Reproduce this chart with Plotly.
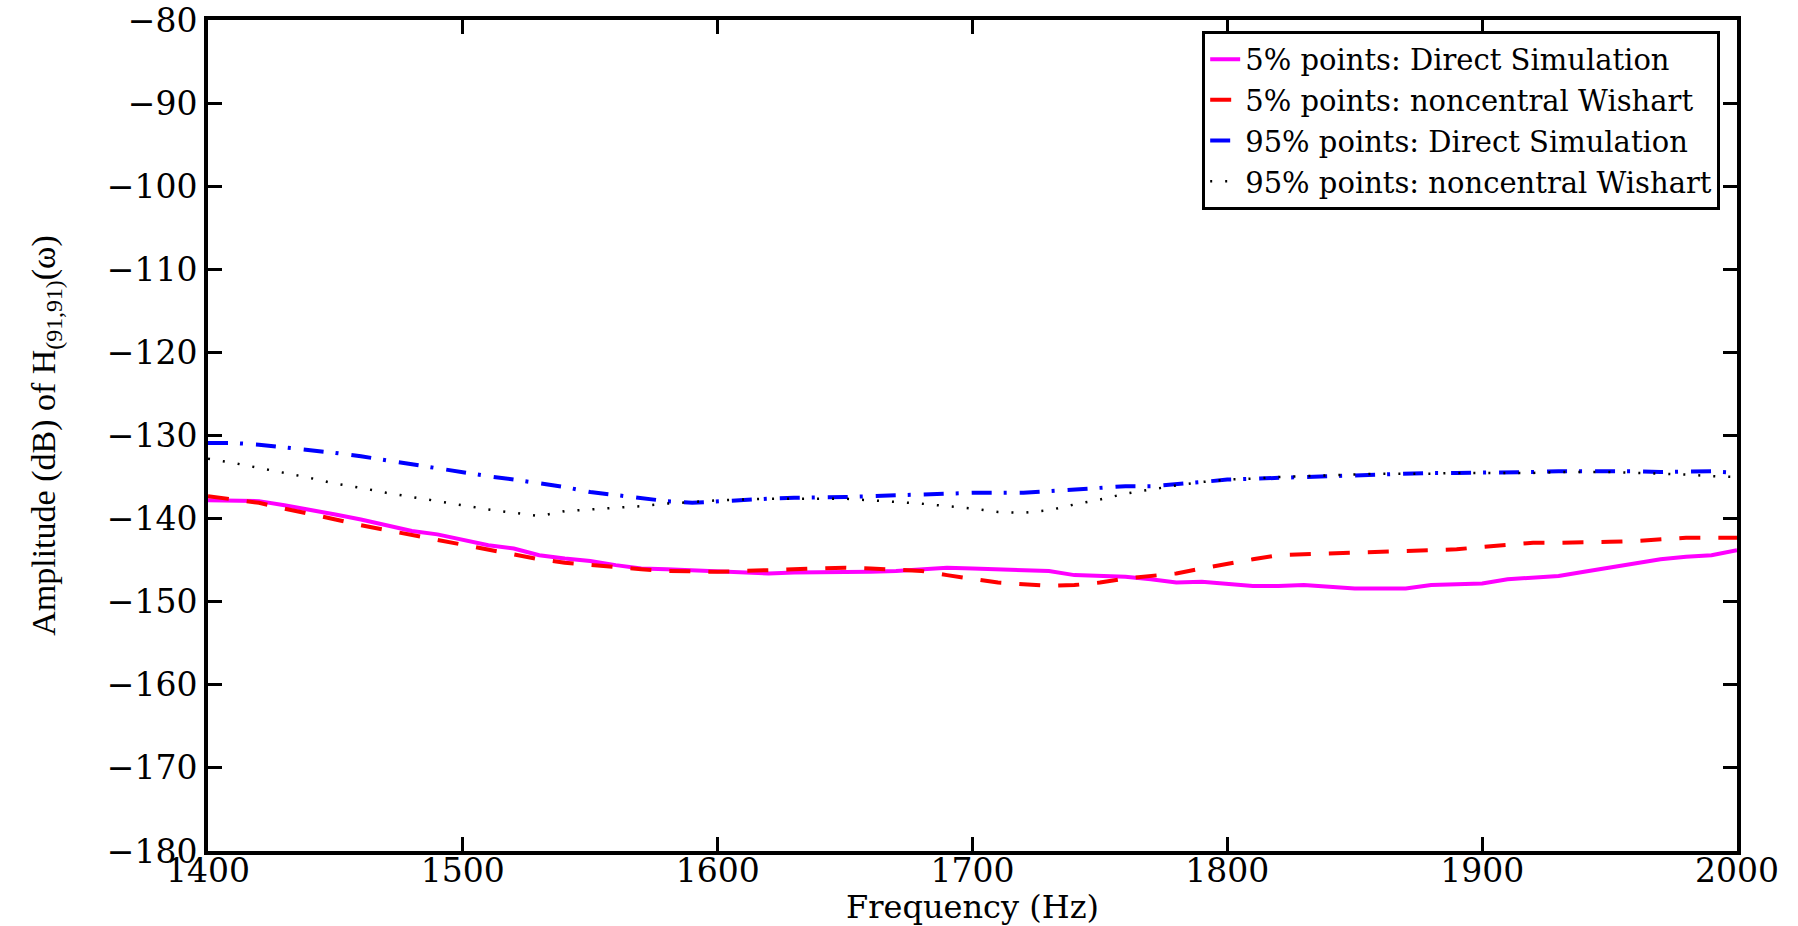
import plotly.graph_objects as go

freq = list(range(1400, 2001, 10))

p5_direct = [-137.8, -137.8, -137.9, -138.4, -138.9, -139.5, -140.1, -140.8, -141.5, -141.9,
             -142.6, -143.2, -143.6, -144.4, -144.8, -145.1, -145.6, -146.0, -146.1, -146.2,
             -146.3, -146.5, -146.6, -146.5, -146.5, -146.4, -146.4, -146.3, -146.1, -145.9,
             -146.0, -146.1, -146.2, -146.3, -146.8, -146.9, -147.0, -147.3, -147.7, -147.6,
             -147.9, -148.1, -148.1, -148.0, -148.2, -148.4, -148.4, -148.4, -148.0, -147.9,
             -147.8, -147.3, -147.1, -146.9, -146.4, -145.9, -145.4, -144.9, -144.6, -144.4,
             -143.8]

p5_wishart = [-137.3, -137.7, -138.1, -138.8, -139.4, -140.1, -140.8, -141.4, -142.0, -142.6,
              -143.2, -143.8, -144.3, -144.9, -145.3, -145.6, -145.9, -146.1, -146.3, -146.4,
              -146.4, -146.3, -146.2, -146.1, -145.9, -145.9, -146.0, -146.1, -146.3, -146.8,
              -147.3, -147.7, -147.9, -148.1, -148.0, -147.7, -147.2, -146.9, -146.6, -146.0,
              -145.4, -144.9, -144.4, -144.3, -144.3, -144.2, -144.1, -144.0, -143.9, -143.7,
              -143.4, -143.2, -142.9, -142.9, -142.9, -142.8, -142.7, -142.5, -142.3, -142.3,
              -142.3]

p95_direct = [-130.9, -130.9, -131.1, -131.4, -131.7, -132.1, -132.5, -133.0, -133.4, -133.9,
              -134.4, -134.9, -135.3, -135.7, -136.2, -136.8, -137.2, -137.6, -137.9, -138.1,
              -137.9, -137.7, -137.6, -137.5, -137.5, -137.4, -137.3, -137.2, -137.0, -136.9,
              -136.9, -136.9, -136.9, -136.7, -136.5, -136.3, -136.1, -136.1, -135.9, -135.6,
              -135.3, -135.2, -135.1, -135.0, -134.9, -134.8, -134.6, -134.6, -134.5, -134.5,
              -134.5, -134.4, -134.4, -134.3, -134.3, -134.2, -134.3, -134.4, -134.4, -134.3,
              -134.5]

p95_wishart = [-132.8, -133.3, -133.9, -134.5, -135.1, -135.8, -136.3, -136.9, -137.4, -137.9,
               -138.4, -138.9, -139.3, -139.7, -139.1, -138.9, -138.7, -138.5, -138.2, -138.0,
               -137.8, -137.7, -137.6, -137.6, -137.6, -137.6, -137.8, -138.0, -138.2, -138.5,
               -138.8, -139.2, -139.3, -139.0, -138.3, -137.7, -137.0, -136.5, -136.0, -135.6,
               -135.3, -135.2, -135.0, -134.9, -134.8, -134.7, -134.6, -134.6, -134.6, -134.5,
               -134.5, -134.5, -134.5, -134.4, -134.4, -134.4, -134.5, -134.6, -134.7, -134.9,
               -135.0]

names = ["5% points: Direct Simulation", "5% points: noncentral Wishart",
         "95% points: Direct Simulation", "95% points: noncentral Wishart"]

x_ticks = [1400, 1500, 1600, 1700, 1800, 1900, 2000]
y_ticks = list(range(-180, -79, 10))

WIDE = "DejaVu Serif, serif"
NARROW = "Liberation Serif, Times New Roman, serif"

fig = go.Figure()
fig.add_trace(go.Scatter(x=freq, y=p5_direct, mode="lines", name=names[0],
                         line=dict(color="#FF00FF", width=4, dash="solid")))
fig.add_trace(go.Scatter(x=freq, y=p5_wishart, mode="lines", name=names[1],
                         line=dict(color="#FF0000", width=4, dash="21px,18px")))
fig.add_trace(go.Scatter(x=freq, y=p95_direct, mode="lines", name=names[2],
                         line=dict(color="#0000FF", width=4, dash="20px,12px,3px,13px")))
fig.add_trace(go.Scatter(x=freq, y=p95_wishart, mode="lines", name=names[3],
                         line=dict(color="#000000", width=2.5, dash="2px,13px")))

axis_common = dict(showline=True, linecolor="black", linewidth=4, mirror="allticks",
                   ticks="inside", ticklen=14, tickwidth=3, tickcolor="black",
                   showgrid=False, zeroline=False, automargin=False,
                   ticklabeloverflow="allow",
                   tickfont=dict(family=WIDE, size=33, color="black"))

fig.update_xaxes(range=[1400, 2000], tickvals=x_ticks, ticklabelstandoff=-13,
                 title=dict(text="Frequency (Hz)", font=dict(family=WIDE, size=32, color="black"),
                            standoff=14),
                 **axis_common)
fig.update_yaxes(range=[-180, -80], tickvals=y_ticks,
                 title=dict(text="Amplitude (dB) of H<sub>(91,91)</sub>(ω)",
                            font=dict(family=NARROW, size=34, color="black"), standoff=42),
                 **axis_common)

fig.update_layout(
    width=1798, height=926,
    margin=dict(l=208, r=61, t=20, b=75),
    plot_bgcolor="white", paper_bgcolor="white",
    font=dict(family=WIDE, color="black"),
    legend=dict(x=0.989, y=0.987, xanchor="right", yanchor="top",
                bgcolor="white", bordercolor="black", borderwidth=3,
                font=dict(family=WIDE, size=29, color="black"),
                tracegroupgap=0),
)

# remove the default page margin so the 1798x926 figure fills the window exactly
fig.write_html("out.html", config={"displayModeBar": False},
               post_script="document.body.style.margin='0';document.body.style.overflow='hidden';")
